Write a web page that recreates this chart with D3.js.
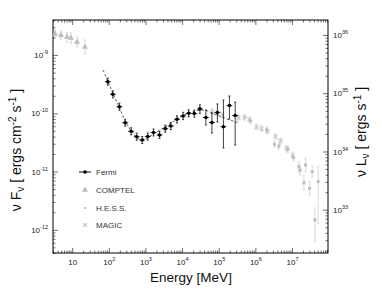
<!DOCTYPE html>
<html>
<head>
<meta charset="utf-8">
<script src="https://cdn.jsdelivr.net/npm/d3@7"></script>
<style>
  body { margin: 0; background: #fff; }
  svg { display: block; }
  text { font-family: "Liberation Sans", Arial, sans-serif; }
</style>
</head>
<body>
<div id="chart"></div>
<script>
// COMPTEL points (MeV, ergs cm^-2 s^-1)
const comptelE = [3.4, 4.97, 7.2, 9.3, 13.6, 22.4];
const comptelF = [2.3e-9, 2.2e-9, 2.04e-9, 1.96e-9, 1.68e-9, 1.38e-9];
const comptelLo = [1.96e-9, 1.88e-9, 1.67e-9, 1.61e-9, 1.38e-9, 1.05e-9];
const comptelHi = [2.69e-9, 2.58e-9, 2.48e-9, 2.39e-9, 2.05e-9, 1.82e-9];

// Fermi points
const fermiE = [94, 129, 195, 280, 408, 578, 817, 1155, 1664, 2428, 3478, 4920, 7265,
  10620, 15100, 21600, 30600, 44600, 65100, 92100, 134400, 196000, 281000];
const fermiF = [3.49e-10, 2.12e-10, 1.30e-10, 6.9e-11, 4.91e-11, 3.97e-11, 3.48e-11, 4.0e-11,
  4.69e-11, 4.25e-11, 5.45e-11, 6.05e-11, 7.89e-11, 9.0e-11, 1.0e-10, 9.9e-11, 1.19e-10,
  8.48e-11, 6.95e-11, 1.03e-10, 5.89e-11, 1.36e-10, 9.17e-11];
const fermiLo = [3.04e-10, 1.84e-10, 1.13e-10, 6.0e-11, 4.27e-11, 3.45e-11, 3.03e-11, 3.48e-11,
  4.08e-11, 3.70e-11, 4.74e-11, 5.26e-11, 6.86e-11, 7.8e-11, 8.7e-11, 8.6e-11, 1.0e-10,
  6.3e-11, 4.59e-11, 7.1e-11, 2.54e-11, 7.98e-11, 2.86e-11];
const fermiHi = [4.01e-10, 2.44e-10, 1.50e-10, 7.9e-11, 5.65e-11, 4.57e-11, 4.0e-11, 4.6e-11,
  5.39e-11, 4.89e-11, 6.27e-11, 6.96e-11, 9.07e-11, 1.04e-10, 1.15e-10, 1.14e-10, 1.40e-10,
  1.14e-10, 1.01e-10, 1.45e-10, 1.69e-10, 1.98e-10, 1.56e-10];
const fermiBinFactor = 1.2;

// Fermi model curve (dashed)
const modelE = [70, 96, 131, 192, 280, 408, 560, 767, 1120, 1633, 2384, 3475, 5070, 7410,
  10800, 15800, 23000, 33600, 49000, 71600, 104500, 152000, 222000, 324000];
const modelF = [5.54e-10, 3.45e-10, 2.15e-10, 1.28e-10, 7.38e-11, 4.97e-11, 3.92e-11, 3.55e-11,
  3.77e-11, 4.42e-11, 5.07e-11, 5.82e-11, 6.82e-11, 7.98e-11, 9.17e-11, 1.01e-10, 1.10e-10,
  1.14e-10, 1.10e-10, 9.93e-11, 9.0e-11, 8.15e-11, 7.53e-11, 6.95e-11];

// MAGIC points
const magicE = [67200, 92100, 126000, 346000, 505000, 692000, 1.07e6, 1.47e6, 2.15e6, 3.56e6,
  4.88e6, 7.11e6, 1.04e7];
const magicF = [1.07e-10, 9.93e-11, 9.35e-11, 8.32e-11, 8.48e-11, 7.83e-11, 5.82e-11, 5.48e-11,
  4.97e-11, 4.0e-11, 3.35e-11, 2.49e-11, 1.89e-11];
const magicLo = [9.5e-11, 8.8e-11, 8.3e-11, 7.4e-11, 7.5e-11, 6.9e-11, 5.2e-11, 4.9e-11,
  4.4e-11, 3.55e-11, 2.95e-11, 2.2e-11, 1.65e-11];
const magicHi = [1.2e-10, 1.12e-10, 1.05e-10, 9.4e-11, 9.6e-11, 8.8e-11, 6.6e-11, 6.2e-11,
  5.6e-11, 4.5e-11, 3.8e-11, 2.8e-11, 2.15e-11];

// H.E.S.S. points
const hessE = [735000, 2.02e6, 3.33e6, 4.38e6, 7.71e6, 1.10e7, 1.54e7, 1.66e7, 2.11e7, 2.35e7,
  3.03e7, 3.55e7, 4.23e7, 5.17e7];
const hessF = [7.38e-11, 5.18e-11, 2.94e-11, 2.75e-11, 2.41e-11, 1.74e-11, 1.21e-11, 1.06e-11,
  6.44e-12, 1.30e-11, 5.16e-12, 9.95e-12, 1.48e-12, 6.70e-12];
const hessLo = [6.55e-11, 4.6e-11, 2.61e-11, 2.44e-11, 2.14e-11, 1.54e-11, 9.9e-12, 8.7e-12,
  4.9e-12, 9.84e-12, 3.9e-12, 7.9e-12, 6.25e-13, 1.29e-12];
const hessHi = [8.3e-11, 5.83e-11, 3.31e-11, 3.1e-11, 2.71e-11, 1.96e-11, 1.47e-11, 1.29e-11,
  8.5e-12, 1.71e-11, 6.8e-12, 1.25e-11, 2.37e-12, 1.21e-11];

const legendLabels = ["Fermi", "COMPTEL", "H.E.S.S.", "MAGIC"];

// ratio between nuLnu and nuFnu (right axis)
const lumFactor = Math.pow(10, 44.655);

const width = 382, height = 293;
const svg = d3.select("#chart").append("svg").attr("width", width).attr("height", height);

const x = d3.scaleLog().domain([3, 9.6e7]).range([53, 328]);
const y = d3.scaleLog().domain([4e-13, 4e-9]).range([253, 20]);
const yR = d3.scaleLog().domain(y.domain().map((v) => v * lumFactor)).range([253, 20]);

const plotTop = 20, plotBottom = 253, plotLeft = 53, plotRight = 328;
const grayPt = "#bdbdbd";
const grayErr = "#c8c8c8";

// log tick helpers
function logTicks(scale) {
  const [a, b] = scale.domain();
  const out = [];
  for (let k = Math.floor(Math.log10(a)); k <= Math.ceil(Math.log10(b)); k++) {
    for (let m = 1; m < 10; m++) {
      const v = m * Math.pow(10, k);
      if (v >= a && v <= b) out.push(v);
    }
  }
  return out;
}
const isDecade = (v) => Math.abs(Math.log10(v) - Math.round(Math.log10(v))) < 1e-6;

function supLabel(sel, v) {
  const e = Math.round(Math.log10(v));
  sel.text(null);
  sel.append("tspan").text("10");
  if (e !== 1) {
    sel.append("tspan").attr("font-size", "5.5px").attr("dy", "-4").text(e);
  }
}

const axisCol = "#222";

// bottom axis (ticks pointing in)
const xMinor = logTicks(x);
svg.append("g")
  .attr("transform", `translate(0,${plotBottom})`)
  .call(d3.axisBottom(x).tickValues(xMinor.filter((v) => !isDecade(v))).tickSize(-2.5).tickFormat(""))
  .call((g) => g.select(".domain").remove());
const xAxis = svg.append("g")
  .attr("transform", `translate(0,${plotBottom})`)
  .call(d3.axisBottom(x).tickValues(xMinor.filter(isDecade)).tickSize(-5).tickPadding(6))
  .call((g) => g.select(".domain").remove());
xAxis.selectAll(".tick text")
  .attr("font-size", "8px").attr("fill", axisCol).attr("font-family", "Liberation Sans, Arial, sans-serif")
  .each(function (d) { supLabel(d3.select(this), d); });

// top axis ticks
svg.append("g")
  .attr("transform", `translate(0,${plotTop})`)
  .call(d3.axisTop(x).tickValues(xMinor.filter((v) => !isDecade(v))).tickSize(-2.5).tickFormat(""))
  .call((g) => g.select(".domain").remove());
svg.append("g")
  .attr("transform", `translate(0,${plotTop})`)
  .call(d3.axisTop(x).tickValues(xMinor.filter(isDecade)).tickSize(-5).tickFormat(""))
  .call((g) => g.select(".domain").remove());

// left axis
const yMinor = logTicks(y);
svg.append("g")
  .attr("transform", `translate(${plotLeft},0)`)
  .call(d3.axisLeft(y).tickValues(yMinor.filter((v) => !isDecade(v))).tickSize(-2.5).tickFormat(""))
  .call((g) => g.select(".domain").remove());
const yAxis = svg.append("g")
  .attr("transform", `translate(${plotLeft},0)`)
  .call(d3.axisLeft(y).tickValues(yMinor.filter(isDecade)).tickSize(-5).tickPadding(5))
  .call((g) => g.select(".domain").remove());
yAxis.selectAll(".tick text")
  .attr("font-size", "8px").attr("fill", axisCol).attr("font-family", "Liberation Sans, Arial, sans-serif")
  .each(function (d) { supLabel(d3.select(this), d); });

// right axis
const yRMinor = logTicks(yR);
svg.append("g")
  .attr("transform", `translate(${plotRight},0)`)
  .call(d3.axisRight(yR).tickValues(yRMinor.filter((v) => !isDecade(v))).tickSize(-2.5).tickFormat(""))
  .call((g) => g.select(".domain").remove());
const yRAxis = svg.append("g")
  .attr("transform", `translate(${plotRight},0)`)
  .call(d3.axisRight(yR).tickValues(yRMinor.filter(isDecade)).tickSize(-5).tickPadding(5))
  .call((g) => g.select(".domain").remove());
yRAxis.selectAll(".tick text")
  .attr("font-size", "8px").attr("fill", axisCol).attr("font-family", "Liberation Sans, Arial, sans-serif")
  .each(function (d) { supLabel(d3.select(this), d); });

svg.selectAll(".tick line").attr("stroke", "#333").attr("stroke-width", 0.7);

// frame
svg.append("rect")
  .attr("x", plotLeft).attr("y", plotTop)
  .attr("width", plotRight - plotLeft).attr("height", plotBottom - plotTop)
  .attr("fill", "none").attr("stroke", "#000").attr("stroke-width", 1);

const plot = svg.append("g");

function errorBars(E, F, lo, hi, color, sw) {
  const g = plot.append("g").attr("stroke", color).attr("stroke-width", sw);
  g.selectAll("line.v").data(E).enter().append("line")
    .attr("x1", (d) => x(d)).attr("x2", (d) => x(d))
    .attr("y1", (d, i) => y(hi[i])).attr("y2", (d, i) => y(lo[i]));
  g.selectAll("line.cap1").data(E).enter().append("line")
    .attr("x1", (d) => x(d) - 1).attr("x2", (d) => x(d) + 1)
    .attr("y1", (d, i) => y(hi[i])).attr("y2", (d, i) => y(hi[i]));
  g.selectAll("line.cap2").data(E).enter().append("line")
    .attr("x1", (d) => x(d) - 1).attr("x2", (d) => x(d) + 1)
    .attr("y1", (d, i) => y(lo[i])).attr("y2", (d, i) => y(lo[i]));
}

// COMPTEL
errorBars(comptelE, comptelF, comptelLo, comptelHi, grayErr, 0.7);
plot.append("g").selectAll("path").data(comptelE).enter().append("path")
  .attr("d", d3.symbol(d3.symbolTriangle, 16))
  .attr("transform", (d, i) => `translate(${x(d)},${y(comptelF[i])})`)
  .attr("fill", grayPt);

// MAGIC
errorBars(magicE, magicF, magicLo, magicHi, grayErr, 0.6);
plot.append("g").selectAll("path").data(magicE).enter().append("path")
  .attr("d", d3.symbol(d3.symbolX, 12))
  .attr("transform", (d, i) => `translate(${x(d)},${y(magicF[i])})`)
  .attr("fill", "none").attr("stroke", "#c4c4c4").attr("stroke-width", 1.1);

// H.E.S.S.
errorBars(hessE, hessF, hessLo, hessHi, grayErr, 0.7);
plot.append("g").selectAll("rect").data(hessE).enter().append("rect")
  .attr("x", (d) => x(d) - 1.5).attr("y", (d, i) => y(hessF[i]) - 1.5)
  .attr("width", 3).attr("height", 3)
  .attr("fill", grayPt);

// Fermi model
plot.append("path")
  .datum(modelE)
  .attr("d", d3.line().x((d) => x(d)).y((d, i) => y(modelF[i])).curve(d3.curveMonotoneX))
  .attr("fill", "none").attr("stroke", "#333").attr("stroke-width", 0.8)
  .attr("stroke-dasharray", "2.5,2");

// Fermi points
errorBars(fermiE, fermiF, fermiLo, fermiHi, "#111", 0.8);
plot.append("g").attr("stroke", "#111").attr("stroke-width", 0.9)
  .selectAll("line").data(fermiE).enter().append("line")
  .attr("x1", (d) => x(d / fermiBinFactor)).attr("x2", (d) => x(d * fermiBinFactor))
  .attr("y1", (d, i) => y(fermiF[i])).attr("y2", (d, i) => y(fermiF[i]));
plot.append("g").selectAll("circle").data(fermiE).enter().append("circle")
  .attr("cx", (d) => x(d)).attr("cy", (d, i) => y(fermiF[i]))
  .attr("r", 1.8).attr("fill", "#000");

// legend
const legend = svg.append("g");
const legY = [172, 190, 208, 225];
legend.append("line").attr("x1", 79).attr("x2", 91).attr("y1", legY[0]).attr("y2", legY[0])
  .attr("stroke", "#111").attr("stroke-width", 1);
legend.append("circle").attr("cx", 85).attr("cy", legY[0]).attr("r", 1.8).attr("fill", "#000");
legend.append("path").attr("d", d3.symbol(d3.symbolTriangle, 16))
  .attr("transform", `translate(85,${legY[1]})`).attr("fill", grayPt);
legend.append("rect").attr("x", 84).attr("y", legY[2] - 1).attr("width", 2).attr("height", 2)
  .attr("fill", grayPt);
legend.append("path").attr("d", d3.symbol(d3.symbolX, 12))
  .attr("transform", `translate(85,${legY[3]})`)
  .attr("fill", "none").attr("stroke", "#c4c4c4").attr("stroke-width", 1.1);
legend.selectAll("text").data(legendLabels).enter().append("text")
  .attr("x", 96).attr("y", (d, i) => legY[i] + 3)
  .attr("font-size", "8px").attr("fill", "#333")
  .text((d) => d);

// axis titles
svg.append("text")
  .attr("x", 191).attr("y", 282)
  .attr("text-anchor", "middle").attr("font-size", "13.5px").attr("fill", "#111")
  .text("Energy [MeV]");

const yTitle = svg.append("text")
  .attr("transform", "translate(21,150) rotate(-90)")
  .attr("text-anchor", "middle").attr("font-size", "14px").attr("fill", "#111");
yTitle.append("tspan").text("ν F");
yTitle.append("tspan").attr("font-size", "10px").attr("dy", 3).text("ν");
yTitle.append("tspan").attr("dy", -3).text(" [ ergs cm");
yTitle.append("tspan").attr("font-size", "10px").attr("dy", -5).text("-2");
yTitle.append("tspan").attr("dy", 5).text(" s");
yTitle.append("tspan").attr("font-size", "10px").attr("dy", -5).text("-1");
yTitle.append("tspan").attr("dy", 5).text(" ]");

const yRTitle = svg.append("text")
  .attr("transform", "translate(366,132) rotate(-90)")
  .attr("text-anchor", "middle").attr("font-size", "14px").attr("fill", "#111");
yRTitle.append("tspan").text("ν L");
yRTitle.append("tspan").attr("font-size", "10px").attr("dy", 3).text("ν");
yRTitle.append("tspan").attr("dy", -3).text(" [ ergs s");
yRTitle.append("tspan").attr("font-size", "10px").attr("dy", -5).text("-1");
yRTitle.append("tspan").attr("dy", 5).text(" ]");
</script>
</body>
</html>
